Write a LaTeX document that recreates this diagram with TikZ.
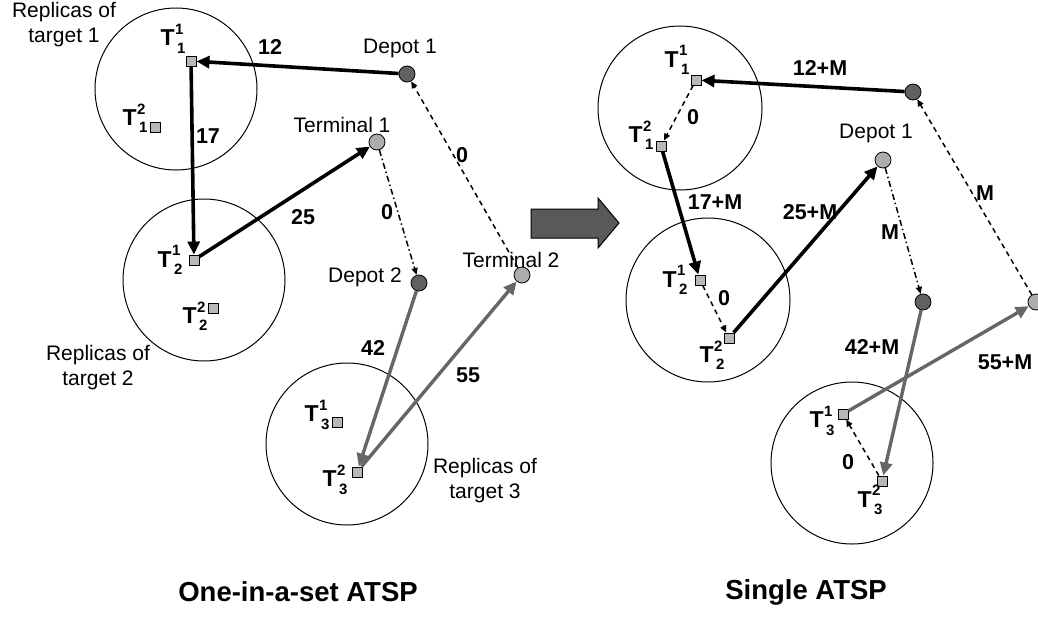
\documentclass[tikz,border=0pt]{standalone}
\usepackage{fontspec}
\setmainfont{Liberation Sans}
\usetikzlibrary{arrows.meta}
\newcommand{\Tss}[2]{\textbf{T\kern0.5pt\rlap{\raisebox{0.48em}{\fontsize{15}{15}\selectfont #1}}\raisebox{-0.32em}{\kern2pt\fontsize{15}{15}\selectfont #2}}}
\begin{document}
\begin{tikzpicture}[x=1pt,y=-1pt,
 lbl/.style={font=\fontsize{21}{25}\selectfont, align=center, inner sep=0},
 num/.style={font=\fontsize{21.5}{25}\selectfont\bfseries, inner sep=0},
 tl/.style={font=\fontsize{23}{25}\selectfont, inner sep=0},
 ttl/.style={font=\fontsize{27.5}{30}\selectfont\bfseries, inner sep=0},
 setc/.style={draw, circle, line width=1pt, inner sep=0},
 dark/.style={draw, circle, fill=black!62, minimum size=16pt, inner sep=0, line width=0.8pt},
 light/.style={draw, circle, fill=black!32, minimum size=16pt, inner sep=0, line width=0.8pt},
 rep/.style={draw, rectangle, fill=black!28, minimum size=10pt, inner sep=0, line width=0.9pt},
 strong/.style={line width=3.6pt, -{Triangle[length=13pt,width=12pt]}},
 grey/.style={line width=3.4pt, draw=black!60, -{Triangle[length=13pt,width=12pt]}},
 dsh/.style={line width=1.5pt, dash pattern=on 5pt off 4pt, -{Triangle[length=7pt,width=6pt]}},
 dshdot/.style={line width=1.5pt, dash pattern=on 6pt off 3pt on 1.5pt off 3pt, -{Triangle[length=7pt,width=6pt]}},
]
\useasboundingbox[fill=white] (0,0) rectangle (1038,621);

% ---------- left panel ----------
\node[setc,minimum size=162pt] (LS1) at (176,89) {};
\node[setc,minimum size=162pt] (LS2) at (204,280) {};
\node[setc,minimum size=162pt] (LS3) at (347,444) {};
\node[rep] (L11) at (191,61) {};
\node[rep] (L21) at (155,127) {};
\node[rep] (L12) at (194,260) {};
\node[rep] (L22) at (213,308) {};
\node[rep] (L13) at (337,422) {};
\node[rep] (L23) at (357,472) {};
\node[dark] (LD1) at (407,74) {};
\node[light] (LT1) at (377,142) {};
\node[dark] (LD2) at (419,283) {};
\node[light] (LT2) at (522,275) {};

\draw[strong] (LD1) -- (L11);
\draw[strong] (L11) -- (L12);
\draw[strong] (L12) -- (LT1);
\draw[dshdot] (LT1) -- (LD2);
\draw[dsh] (LT2) -- (LD1);
\draw[grey] (LD2) -- (L23);
\draw[grey] (L23) -- (LT2);

\node[lbl] (rep1) at (64,25) {Replicas of\\target 1};
\node[lbl] (rep2) at (98,368) {Replicas of\\target 2};
\node[lbl] (rep3) at (485,481) {Replicas of\\target 3};
\node[lbl] (lD1) at (400,48) {Depot 1};
\node[lbl] (lT1) at (342,125) {Terminal 1};
\node[lbl] (lD2) at (365,277) {Depot 2};
\node[lbl] (lT2) at (511,260) {Terminal 2};
\node[tl] (tL11) at (173,39) {\Tss{1}{1}};
\node[tl] (tL21) at (135,118) {\Tss{2}{1}};
\node[tl] (tL12) at (170,260) {\Tss{1}{2}};
\node[tl] (tL22) at (195,316) {\Tss{2}{2}};
\node[tl] (tL13) at (317,415) {\Tss{1}{3}};
\node[tl] (tL23) at (335,480) {\Tss{2}{3}};
\node[num] (n12) at (270,47) {12};
\node[num] (n17) at (208,136) {17};
\node[num] (n25) at (303,217) {25};
\node[num] (n0a) at (387,212) {0};
\node[num] (n0b) at (462,155) {0};
\node[num] (n42) at (373,348) {42};
\node[num] (n55) at (468,375) {55};
\node[ttl] (tleft) at (298,592) {One-in-a-set ATSP};

% ---------- transformation arrow ----------
\draw[fill=black!65, line width=1pt] (531,209) -- (598,209) -- (598,198) -- (619,223)
  -- (598,248) -- (598,238) -- (531,238) -- cycle;

% ---------- right panel ----------
\node[setc,minimum size=164pt] (RS1) at (680,108) {};
\node[setc,minimum size=164pt] (RS2) at (708,300) {};
\node[setc,minimum size=162pt] (RS3) at (852,463) {};
\node[rep] (R11) at (696,80) {};
\node[rep] (R21) at (661,146) {};
\node[rep] (R12) at (700,280) {};
\node[rep] (R22) at (729,338) {};
\node[rep] (R13) at (843,414) {};
\node[rep] (R23) at (882,481) {};
\node[dark] (RA) at (913,92) {};
\node[light] (RB) at (883,160) {};
\node[dark] (RC) at (923,302) {};
\node[light] (RD) at (1036,302) {};

\draw[strong] (RA) -- (R11);
\draw[dsh] (R11) -- (R21);
\draw[strong] (R21) -- (R12);
\draw[dsh] (R12) -- (R22);
\draw[strong] (R22) -- (RB);
\draw[dshdot] (RB) -- (RC);
\draw[dsh] (RD) -- (RA);
\draw[grey] (RC) -- (R23);
\draw[dsh] (R23) -- (R13);
\draw[grey] (R13) -- (RD);

\node[lbl] (rD1) at (876,133) {Depot 1};
\node[tl] (tR11) at (677,60) {\Tss{1}{1}};
\node[tl] (tR21) at (641,135) {\Tss{2}{1}};
\node[tl] (tR12) at (675,280) {\Tss{1}{2}};
\node[tl] (tR22) at (712,355) {\Tss{2}{2}};
\node[tl] (tR13) at (822,421) {\Tss{1}{3}};
\node[tl] (tR23) at (870,500) {\Tss{2}{3}};
\node[num] (m12) at (820,68) {12+M};
\node[num] (m0a) at (693,117) {0};
\node[num] (m17) at (715,202) {17+M};
\node[num] (m25) at (810,212) {25+M};
\node[num] (mMa) at (890,232) {M};
\node[num] (mMb) at (985,193) {M};
\node[num] (m0b) at (724,298) {0};
\node[num] (m42) at (872,347) {42+M};
\node[num] (m55) at (1005,362) {55+M};
\node[num] (m0c) at (848,462) {0};
\node[ttl] (tright) at (806,592) {Single ATSP};
\end{tikzpicture}
\end{document}
